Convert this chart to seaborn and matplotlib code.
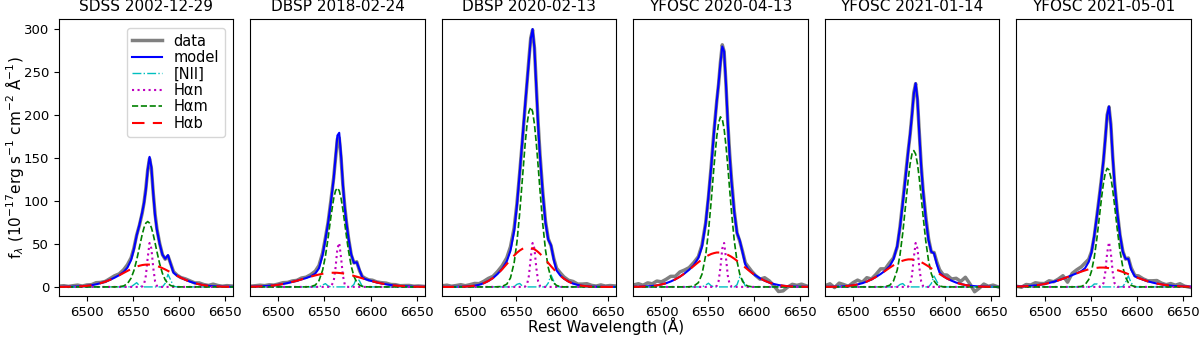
import numpy as np
import pandas as pd
import seaborn as sns
import matplotlib.pyplot as plt

titles = ['SDSS 2002-12-29', 'DBSP 2018-02-24', 'DBSP 2020-02-13',
          'YFOSC 2020-04-13', 'YFOSC 2021-01-14', 'YFOSC 2021-05-01']

# rest wavelength grid (finer around the line core)
wave = [6469, 6475, 6480, 6485, 6490, 6495, 6500, 6505, 6510, 6515, 6520, 6525,
        6530, 6535, 6540, 6544, 6548, 6551, 6554, 6557, 6560, 6562, 6564, 6566,
        6568, 6570, 6572, 6574, 6576, 6579, 6582, 6585, 6588, 6591, 6594, 6598,
        6602, 6607, 6612, 6617, 6622, 6627, 6632, 6637, 6642, 6647, 6652, 6659]

# broad Halpha, one row per epoch
hab = [
    [0.0, 0.1, 0.2, 0.3, 0.5, 0.8, 1.3, 2.0, 3.0, 4.4, 6.1, 8.2, 10.7, 13.4, 16.3, 18.6,
     20.8, 22.3, 23.6, 24.6, 25.4, 25.7, 25.9, 26.0, 25.9, 25.7, 25.4, 24.9, 24.3, 23.2,
     21.8, 20.3, 18.6, 16.9, 15.2, 12.9, 10.7, 8.2, 6.1, 4.4, 3.0, 2.0, 1.3, 0.8, 0.5,
     0.3, 0.2, 0.1],
    [0.3, 0.4, 0.6, 0.9, 1.3, 1.8, 2.5, 3.4, 4.5, 5.8, 7.2, 8.7, 10.3, 11.9, 13.4, 14.4,
     15.3, 15.8, 16.2, 16.4, 16.5, 16.5, 16.4, 16.2, 16.0, 15.7, 15.3, 14.9, 14.4, 13.7,
     12.8, 11.9, 11.0, 10.0, 9.0, 7.8, 6.6, 5.2, 4.0, 3.0, 2.2, 1.6, 1.1, 0.8, 0.5,
     0.3, 0.2, 0.1],
    [0.0, 0.0, 0.0, 0.1, 0.2, 0.4, 0.8, 1.4, 2.5, 4.3, 6.9, 10.3, 15.0, 20.5, 26.6, 31.7,
     36.5, 39.7, 42.3, 44.3, 45.6, 46.0, 46.0, 45.6, 44.8, 43.7, 42.3, 40.6, 38.6, 35.3,
     31.7, 27.9, 24.1, 20.5, 17.0, 13.0, 9.6, 6.2, 3.8, 2.3, 1.3, 0.7, 0.3, 0.2, 0.1,
     0.0, 0.0, 0.0],
    [0.1, 0.2, 0.4, 0.7, 1.1, 1.8, 2.9, 4.3, 6.3, 8.8, 11.9, 15.6, 19.8, 24.3, 28.7, 32.0,
     35.0, 36.8, 38.3, 39.3, 40.0, 40.0, 40.0, 39.6, 39.0, 38.3, 37.3, 36.2, 35.0, 32.8,
     30.4, 27.8, 25.2, 22.5, 19.8, 16.4, 13.4, 10.0, 7.2, 5.0, 3.4, 2.2, 1.4, 0.8, 0.5,
     0.3, 0.2, 0.1],
    [0.1, 0.1, 0.2, 0.4, 0.7, 1.2, 1.9, 2.9, 4.3, 6.2, 8.7, 11.6, 15.0, 18.7, 22.4, 25.2,
     27.7, 29.3, 30.5, 31.4, 32.0, 32.0, 32.0, 31.6, 31.2, 30.5, 29.7, 28.8, 27.7, 25.8,
     23.8, 21.6, 19.4, 17.2, 15.0, 12.3, 9.8, 7.2, 5.0, 3.4, 2.2, 1.4, 0.9, 0.5, 0.3,
     0.2, 0.1, 0.0],
    [0.4, 0.6, 0.8, 1.2, 1.8, 2.5, 3.4, 4.6, 6.0, 7.6, 9.5, 11.5, 13.7, 15.8, 17.8, 19.2,
     20.5, 21.2, 21.8, 22.2, 22.5, 22.5, 22.5, 22.3, 22.1, 21.8, 21.4, 21.0, 20.5, 19.5,
     18.5, 17.4, 16.2, 14.9, 13.7, 11.9, 10.3, 8.4, 6.6, 5.1, 3.9, 2.9, 2.1, 1.4, 1.0,
     0.7, 0.4, 0.3],
]

# intermediate Halpha
ham = [
    [0] * 13 + [0.2, 1.2, 3.8, 10.3, 18.9, 31.2, 46.1, 60.9, 68.9, 74.2, 76.0, 74.2, 68.9,
                60.9, 51.2, 41.0, 26.8, 15.7, 8.2, 3.8, 1.6, 0.6, 0.1] + [0] * 12,
    [0] * 13 + [0.3, 2.1, 7.2, 19.6, 35.7, 57.6, 81.9, 102.9, 111.9, 115.0, 111.9, 102.9,
                89.7, 73.8, 57.6, 42.4, 24.2, 12.2, 5.4, 2.1, 0.7, 0.2] + [0] * 13,
    [0] * 12 + [0.1, 0.6, 3.2, 10.5, 28.3, 52.1, 85.9, 126.8, 167.4, 189.3, 203.9, 209.0,
                203.9, 189.3, 167.4, 140.8, 112.8, 73.6, 43.0, 22.5, 10.5, 4.4, 1.7,
                0.4] + [0] * 12,
    [0] * 12 + [0.1, 0.9, 4.9, 14.8, 36.9, 64.3, 100.2, 140.0, 174.7, 190.5, 197.7, 195.3,
                183.6, 164.3, 140.0, 113.4, 87.5, 54.1, 29.9, 14.8, 6.5, 2.6, 0.9,
                0.2] + [0] * 12,
    [0] * 13 + [0.3, 2.0, 7.0, 19.6, 37.1, 62.6, 94.0, 125.7, 143.0, 154.5, 158.5, 154.5,
                143.0, 125.7, 104.9, 83.2, 53.3, 30.4, 15.4, 7.0, 2.8, 1.0, 0.2] + [0] * 12,
    [0] * 13 + [0.1, 0.6, 2.6, 8.6, 18.3, 34.4, 57.6, 85.6, 104.4, 120.7, 132.4, 137.9,
                136.0, 127.3, 113.0, 95.2, 66.6, 41.4, 22.9, 11.2, 4.9, 1.9, 0.4] + [0] * 12,
]

# narrow Halpha
han = [
    [0] * 19 + [0.0, 0.4, 2.9, 13.0, 33.9, 51.1, 44.6, 22.4, 6.5, 1.1, 0.0] + [0] * 18,
    [0] * 19 + [0.4, 6.6, 22.4, 44.6, 51.1, 33.9, 13.0, 2.9, 0.4, 0.0, 0.0] + [0] * 18,
    [0] * 19 + [0.0, 0.4, 2.9, 13.0, 33.9, 51.1, 44.6, 22.4, 6.5, 1.1, 0.0] + [0] * 18,
    [0] * 19 + [0.0, 1.1, 6.6, 22.4, 44.6, 51.1, 33.9, 13.0, 2.9, 0.4, 0.0] + [0] * 18,
    [0] * 19 + [0.0, 0.4, 2.9, 13.0, 33.9, 51.1, 44.6, 22.4, 6.5, 1.1, 0.0] + [0] * 18,
    [0] * 19 + [0.0, 0.0, 0.6, 4.4, 17.4, 39.5, 52.0, 39.5, 17.4, 4.4, 0.2] + [0] * 18,
]

# [NII] 6548/6583 doublet
nii = [
    [0] * 15 + [0, 0.2, 2.5, 4.9, 1.5, 0, 0, 0, 0, 0, 0, 0, 0, 0, 0, 0,
                4.2, 14.6, 7.9, 0.7, 0] + [0] * 12,
    [0] * 15 + [0, 2.3, 3.8, 1.0, 0, 0, 0, 0, 0, 0, 0, 0, 0, 0, 0,
                2.9, 11.4, 6.9, 0.7, 0, 0] + [0] * 12,
    [0] * 15 + [0, 0.3, 3.0, 4.0, 0.9, 0, 0, 0, 0, 0, 0, 0, 0, 0, 0, 0,
                4.5, 13.9, 6.6, 0.5, 0] + [0] * 12,
    [0] * 15 + [0, 2.1, 4.3, 1.3, 0, 0, 0, 0, 0, 0, 0, 0, 0, 0, 0,
                2.5, 11.5, 8.5, 1.0, 0, 0] + [0] * 12,
    [0] * 15 + [0, 0.3, 2.8, 3.9, 0.8, 0, 0, 0, 0, 0, 0, 0, 0, 0, 0, 0,
                3.9, 12.6, 6.4, 0.5, 0] + [0] * 12,
    [0] * 15 + [0, 0, 0.5, 3.4, 3.4, 0.5, 0, 0, 0, 0, 0, 0, 0, 0, 0, 0,
                0.3, 5.4, 12.8, 4.7, 0] + [0] * 12,
]

resid = [
    [0.9, 1.3, 0.4, 1.1, 1.6, 0.2, 1.0, 0.6, 1.9, 0.8, 0.3, 1.4, 2.2, 1.5, 2.6, 3.4,
     2.5, 1.2, 0.5, -0.5, -1.0, 0.5, 1.5, 0.0, -2.0, -1.5, 0.5, 2.0, 1.0, 0.5, 0.0, -0.5,
     -1.0, 0.5, 1.2, 0.6, 0.2, 1.1, 0.9, 0.3, 1.6, 0.7, 0.4, 2.4, 1.2, 0.5, 1.3, 0.8],
    [0.5, 1.0, 1.4, 0.6, 1.2, 0.3, 0.9, 1.5, 0.7, 1.1, 0.4, 1.6, 1.0, 2.0, 2.8, 3.2,
     2.4, 1.5, 1.0, 2.0, 1.0, -1.0, -4.0, -6.0, -3.0, 0.0, 1.5, 1.0, 0.5, -0.5, 0.0, 0.5,
     -1.0, 0.8, 1.0, 0.4, 1.2, 0.5, 0.9, 1.4, 0.6, 1.0, 0.3, 0.8, 1.2, 0.5, 0.9, 0.4],
    [1.2, 2.0, 0.8, 1.5, 2.4, 1.0, 1.8, 2.6, 1.3, 2.2, 3.0, 2.0, 2.8, 3.5, 4.0, 4.5,
     3.5, 2.0, 0.5, -1.0, -2.0, 0.0, 2.0, 1.0, -1.0, 0.5, 2.0, 3.0, 2.5, 2.0, 1.5, 1.0,
     -0.5, 1.5, 2.5, 3.0, 2.0, 1.5, 2.5, 1.0, 2.0, 3.0, 1.5, 0.8, 2.2, 1.0, 1.6, 1.0],
    [2.0, 3.5, 1.5, 4.0, 2.5, 5.0, 3.0, 4.5, 6.0, 3.5, 5.5, 4.0, 2.5, 3.0, 1.5, 2.0,
     0.5, -1.0, 1.0, 2.0, 0.0, -1.5, 1.0, 2.0, 0.0, -1.0, 1.0, 2.5, 3.0, 1.5, 0.0, -1.0,
     1.0, 2.0, 3.0, 1.5, 0.0, -1.0, 3.5, 2.0, -2.0, -7.5, -6.0, -1.0, 2.5, 1.5, 3.0, 0.5],
    [1.0, 3.5, -1.0, 4.0, 2.0, -0.5, 3.0, 5.0, 1.0, 4.5, 0.5, 3.0, 6.0, 2.0, 4.0, 1.5,
     -1.0, 0.5, 2.0, 3.0, 1.0, -1.0, 0.5, 2.0, -0.5, -1.5, 1.0, 2.0, 1.5, 3.0, 2.0, -0.5,
     1.0, 2.5, 3.5, 1.5, 4.0, 2.0, 5.0, 3.0, 9.0, 2.0, -6.5, -2.0, 3.0, 0.5, 2.0, -0.5],
    [0.5, -1.0, 2.0, 1.0, 3.0, 1.5, 0.5, 2.5, 0.0, 1.5, 3.5, -6.0, 2.0, 4.0, 5.0, 6.0,
     3.0, 1.0, -1.0, 0.5, 1.0, 0.0, -1.0, 1.0, 0.5, -0.5, 1.0, 0.5, 1.5, 1.0, 0.0, 1.0,
     -0.5, 1.0, 2.0, 1.0, 2.5, 1.0, 0.5, 2.0, 3.5, 1.5, 0.5, 2.5, 1.0, 3.0, 0.5, -1.0],
]

fig, axes = plt.subplots(1, 6, figsize=(12, 3.39), sharey=True)
fig.subplots_adjust(left=0.049, right=0.9925, bottom=0.127, top=0.944, wspace=0.097)

for i, ax in enumerate(axes):
    df = pd.DataFrame({'wave': wave, 'hab': hab[i], 'ham': ham[i],
                       'han': han[i], 'nii': nii[i]})
    df['model'] = df[['hab', 'ham', 'han', 'nii']].sum(axis=1)
    df['data'] = df['model'] + np.array(resid[i])

    sns.lineplot(data=df, x='wave', y='data', ax=ax, color='gray', linewidth=2.5,
                 label='data', legend=False)
    sns.lineplot(data=df, x='wave', y='model', ax=ax, color='b', linewidth=1.5,
                 label='model', legend=False)
    sns.lineplot(data=df, x='wave', y='nii', ax=ax, color='c', linestyle='-.',
                 linewidth=1.0, label='[NII]', legend=False)
    sns.lineplot(data=df, x='wave', y='han', ax=ax, color='m', linestyle=':',
                 linewidth=1.5, label='Hαn', legend=False)
    sns.lineplot(data=df, x='wave', y='ham', ax=ax, color='g', linestyle='--',
                 linewidth=1.2, label='Hαm', legend=False)
    sns.lineplot(data=df, x='wave', y='hab', ax=ax, color='r', linestyle=(0, (6, 4)),
                 linewidth=1.5, label='Hαb', legend=False)

    ax.set_xlim(6469.5, 6659)
    ax.set_ylim(-10.5, 311.5)
    ax.set_xticks([6500, 6550, 6600, 6650])
    ax.tick_params(labelsize=9.5)
    ax.set_xlabel('')
    ax.set_ylabel('')
    ax.set_title(titles[i], fontsize=11)
    if i > 0:
        ax.tick_params(axis='y', left=False)

axes[0].set_ylabel(r'f$_\lambda$ (10$^{-17}$erg s$^{-1}$ cm$^{-2}$ Å$^{-1}$)', fontsize=11)
axes[0].yaxis.set_label_coords(-0.19, 0.5)
axes[0].legend(loc='upper right', fontsize=10.5, labelspacing=0.1, borderaxespad=0.6)
fig.text(0.505, 0.012, 'Rest Wavelength (Å)', ha='center', va='bottom', fontsize=11)

fig.savefig('out.png', dpi=100)
